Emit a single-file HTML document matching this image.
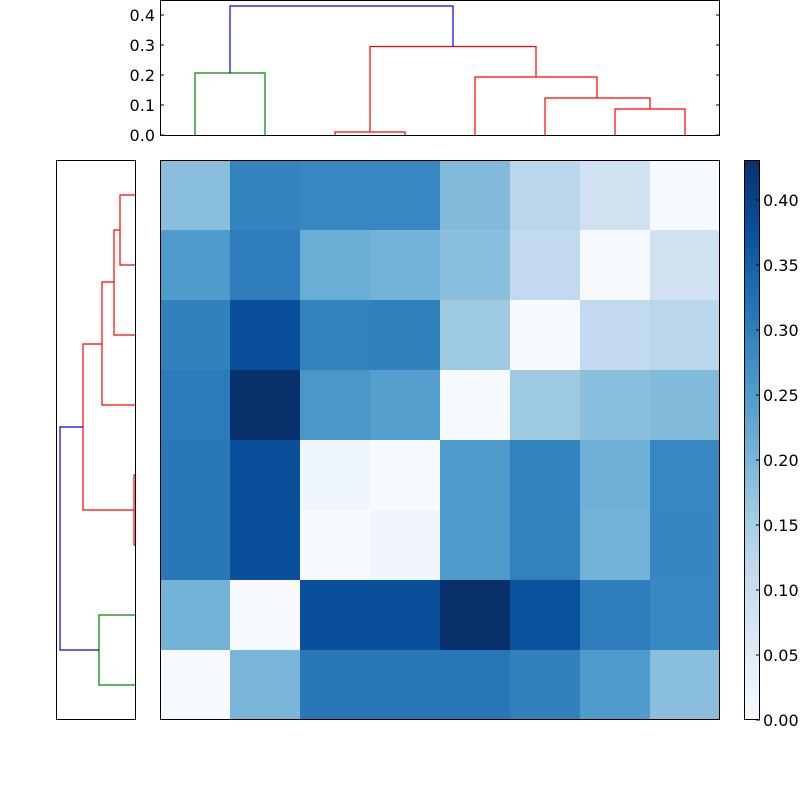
<!DOCTYPE html>
<html><head><style>body{margin:0;background:#fff}svg{display:block}</style></head><body>
<svg width="800" height="800" xmlns="http://www.w3.org/2000/svg" font-family="DejaVu Sans, sans-serif" font-size="16">
<defs>
<linearGradient id="cb" x1="0" y1="1" x2="0" y2="0">
<stop offset="0" stop-color="#f7fbff"/>
<stop offset="0.125" stop-color="#deebf7"/>
<stop offset="0.25" stop-color="#c6dbef"/>
<stop offset="0.375" stop-color="#9ecae1"/>
<stop offset="0.5" stop-color="#6baed6"/>
<stop offset="0.625" stop-color="#4292c6"/>
<stop offset="0.75" stop-color="#2171b5"/>
<stop offset="0.875" stop-color="#08519c"/>
<stop offset="1" stop-color="#08306b"/>
</linearGradient>
</defs>
<!-- heatmap -->
<g shape-rendering="crispEdges">
<rect x="160" y="160" width="70" height="70" fill="#89bedc"/><rect x="230" y="160" width="70" height="70" fill="#3383be"/><rect x="300" y="160" width="70" height="70" fill="#3787c0"/><rect x="370" y="160" width="70" height="70" fill="#3787c0"/><rect x="440" y="160" width="70" height="70" fill="#82badb"/><rect x="510" y="160" width="70" height="70" fill="#b9d6ea"/><rect x="580" y="160" width="70" height="70" fill="#d0e1f2"/><rect x="650" y="160" width="70" height="70" fill="#f7fbff"/>
<rect x="160" y="230" width="70" height="70" fill="#4f9bcb"/><rect x="230" y="230" width="70" height="70" fill="#2f7dbb"/><rect x="300" y="230" width="70" height="70" fill="#6aaed6"/><rect x="370" y="230" width="70" height="70" fill="#73b3d8"/><rect x="440" y="230" width="70" height="70" fill="#89bedc"/><rect x="510" y="230" width="70" height="70" fill="#c3daee"/><rect x="580" y="230" width="70" height="70" fill="#f7fbff"/><rect x="650" y="230" width="70" height="70" fill="#d0e1f2"/>
<rect x="160" y="300" width="70" height="70" fill="#3181bd"/><rect x="230" y="300" width="70" height="70" fill="#0a4f9a"/><rect x="300" y="300" width="70" height="70" fill="#3383be"/><rect x="370" y="300" width="70" height="70" fill="#3181bd"/><rect x="440" y="300" width="70" height="70" fill="#9ecae1"/><rect x="510" y="300" width="70" height="70" fill="#f7fbff"/><rect x="580" y="300" width="70" height="70" fill="#c3daee"/><rect x="650" y="300" width="70" height="70" fill="#b9d6ea"/>
<rect x="160" y="370" width="70" height="70" fill="#2b7bba"/><rect x="230" y="370" width="70" height="70" fill="#08306b"/><rect x="300" y="370" width="70" height="70" fill="#4a98c9"/><rect x="370" y="370" width="70" height="70" fill="#549fcd"/><rect x="440" y="370" width="70" height="70" fill="#f7fbff"/><rect x="510" y="370" width="70" height="70" fill="#9ecae1"/><rect x="580" y="370" width="70" height="70" fill="#89bedc"/><rect x="650" y="370" width="70" height="70" fill="#82badb"/>
<rect x="160" y="440" width="70" height="70" fill="#2a77b8"/><rect x="230" y="440" width="70" height="70" fill="#0a4f9a"/><rect x="300" y="440" width="70" height="70" fill="#eff6fc"/><rect x="370" y="440" width="70" height="70" fill="#f7fbff"/><rect x="440" y="440" width="70" height="70" fill="#4f9bcb"/><rect x="510" y="440" width="70" height="70" fill="#3282be"/><rect x="580" y="440" width="70" height="70" fill="#6eb0d7"/><rect x="650" y="440" width="70" height="70" fill="#3787c0"/>
<rect x="160" y="510" width="70" height="70" fill="#2a77b8"/><rect x="230" y="510" width="70" height="70" fill="#0a4f9a"/><rect x="300" y="510" width="70" height="70" fill="#f7fbff"/><rect x="370" y="510" width="70" height="70" fill="#f0f6fc"/><rect x="440" y="510" width="70" height="70" fill="#4f9bcb"/><rect x="510" y="510" width="70" height="70" fill="#3282be"/><rect x="580" y="510" width="70" height="70" fill="#73b3d8"/><rect x="650" y="510" width="70" height="70" fill="#3686c0"/>
<rect x="160" y="580" width="70" height="70" fill="#73b3d8"/><rect x="230" y="580" width="70" height="70" fill="#f7fbff"/><rect x="300" y="580" width="70" height="70" fill="#0a4f9a"/><rect x="370" y="580" width="70" height="70" fill="#0a4f9a"/><rect x="440" y="580" width="70" height="70" fill="#08306b"/><rect x="510" y="580" width="70" height="70" fill="#0a529e"/><rect x="580" y="580" width="70" height="70" fill="#2f7dbb"/><rect x="650" y="580" width="70" height="70" fill="#3888c1"/>
<rect x="160" y="650" width="70" height="70" fill="#f7fbff"/><rect x="230" y="650" width="70" height="70" fill="#7ab6d9"/><rect x="300" y="650" width="70" height="70" fill="#2a77b8"/><rect x="370" y="650" width="70" height="70" fill="#2a77b8"/><rect x="440" y="650" width="70" height="70" fill="#2a77b8"/><rect x="510" y="650" width="70" height="70" fill="#3181bd"/><rect x="580" y="650" width="70" height="70" fill="#4f9bcb"/><rect x="650" y="650" width="70" height="70" fill="#89bedc"/>
</g>
<rect x="160.5" y="160.5" width="559" height="559" fill="none" stroke="#000"/>
<!-- top dendrogram -->
<g fill="none" stroke-width="1.2">
<path d="M195 135V73H265V135" stroke="#008000"/>
<path d="M335 135V132H405V135" stroke="#ff0000"/>
<path d="M615 135V109H685V135M545 135V98H650V109M475 135V77H597V98M370 132V46.5H536V77" stroke="#ff0000"/>
<path d="M230 73V6H453V46.5" stroke="#0000ff"/>
</g>
<rect x="160.5" y="0.5" width="559" height="135" fill="none" stroke="#000"/>
<g stroke="#000">
<path d="M160 135h4M160 105h4M160 75h4M160 45h4M160 15h4M720 135h-4M720 105h-4M720 75h-4M720 45h-4M720 15h-4"/>
</g>
<g text-anchor="end" fill="#000">
<text x="155" y="141">0.0</text><text x="155" y="111">0.1</text><text x="155" y="81">0.2</text><text x="155" y="51">0.3</text><text x="155" y="21">0.4</text>
</g>
<!-- left dendrogram -->
<g fill="none" stroke-width="1.2">
<path d="M136 195H120V265H136M136 335H114V230H120M136 405H102V282H114M136 475H134V545H136M134 510H83V344H102" stroke="#ff0000"/>
<path d="M136 615H99V685H136" stroke="#008000"/>
<path d="M99 650H60V427H83" stroke="#0000ff"/>
</g>
<rect x="56.5" y="160.5" width="79" height="559" fill="none" stroke="#000"/>
<!-- colorbar -->
<rect x="744" y="160" width="16" height="560" fill="url(#cb)"/>
<rect x="744.5" y="160.5" width="15" height="559" fill="none" stroke="#000"/>
<g stroke="#000">
<path d="M760 720h-4M760 655h-4M760 590h-4M760 525h-4M760 460h-4M760 395h-4M760 330h-4M760 265h-4M760 200h-4"/>
</g>
<g fill="#000">
<text x="763" y="726">0.00</text><text x="763" y="661">0.05</text><text x="763" y="596">0.10</text><text x="763" y="531">0.15</text><text x="763" y="466">0.20</text><text x="763" y="401">0.25</text><text x="763" y="336">0.30</text><text x="763" y="271">0.35</text><text x="763" y="206">0.40</text>
</g>
</svg>
</body></html>
